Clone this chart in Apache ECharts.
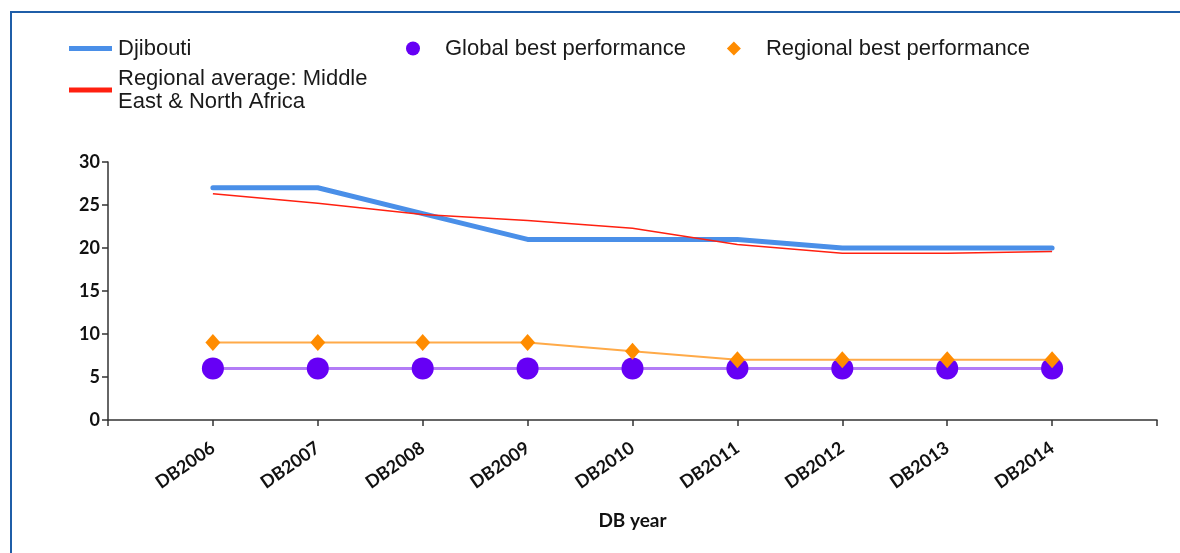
<!DOCTYPE html>
<html>
<head>
<meta charset="utf-8">
<script src="https://cdn.jsdelivr.net/npm/echarts@6/dist/echarts.min.js"></script>
<style>
  html, body { margin: 0; padding: 0; background: #fff; }
  #chart { width: 1180px; height: 553px; }
</style>
</head>
<body>
<div id="chart"></div>
<script>
// Data
const years = ['DB2006', 'DB2007', 'DB2008', 'DB2009', 'DB2010', 'DB2011', 'DB2012', 'DB2013', 'DB2014'];
const djibouti = [27, 27, 24, 21, 21, 21, 20, 20, 20];
const regionalAverage = [26.3, 25.2, 23.9, 23.2, 22.3, 20.4, 19.4, 19.4, 19.6];
const globalBest = [6, 6, 6, 6, 6, 6, 6, 6, 6];
const regionalBest = [9, 9, 9, 9, 8, 7, 7, 7, 7];
const yTicks = [0, 5, 10, 15, 20, 25, 30];

// the axis has an empty slot on each side of the years
const cats = [''].concat(years, ['']);
const pad = arr => [null].concat(arr, [null]);

const labelFont = 'Lato, "Open Sans", sans-serif';
const legendFont = '"Liberation Sans", Arial, sans-serif';

let myChart = echarts.init(document.getElementById('chart'));

let option = {
    backgroundColor: '#fff',
    animation: false,
    graphic: [
        { type: 'rect', shape: { x: 10, y: 11, width: 1170, height: 2 }, style: { fill: '#1f5ea8' } },
        { type: 'rect', shape: { x: 10, y: 11, width: 2, height: 542 }, style: { fill: '#1f5ea8' } }
    ],
    legend: [
        {
            data: ['Djibouti', 'Regional average: Middle East & North Africa'],
            orient: 'vertical',
            left: 64,
            top: 32,
            itemGap: 7,
            itemWidth: 43,
            itemHeight: 5,
            icon: 'rect',
            formatter: name => name.replace('Middle East', 'Middle\nEast'),
            textStyle: { fontFamily: legendFont, fontSize: 22, color: '#1a1a1a', lineHeight: 23, padding: [0, 0, 0, 1] }
        },
        {
            data: [
                { name: 'Global best performance', icon: 'circle' },
                { name: 'Regional best performance', icon: 'diamond' }
            ],
            orient: 'horizontal',
            left: 401,
            top: 32,
            itemGap: 41,
            itemWidth: 14,
            itemHeight: 14,
            textStyle: { fontFamily: legendFont, fontSize: 22, color: '#1a1a1a', lineHeight: 23, padding: [0, 0, 0, 20] }
        }
    ],
    grid: { left: 108, right: 23, top: 162, bottom: 133, containLabel: false },
    xAxis: {
        type: 'category',
        data: cats,
        boundaryGap: false,
        name: 'DB year',
        nameLocation: 'middle',
        nameGap: 91,
        nameTextStyle: { fontFamily: labelFont, fontWeight: 'bold', fontSize: 19, color: '#111' },
        axisLine: { lineStyle: { color: '#333', width: 1.5 } },
        axisTick: { show: true, alignWithLabel: true, length: 6, lineStyle: { color: '#333', width: 1.5 } },
        axisLabel: {
            rotate: 35,
            margin: 26,
            interval: 0,
            fontFamily: labelFont,
            fontWeight: 'bold',
            fontSize: 18,
            color: '#111'
        },
        splitLine: { show: false }
    },
    yAxis: {
        type: 'value',
        min: yTicks[0],
        max: yTicks[yTicks.length - 1],
        interval: 5,
        axisLine: { show: true, lineStyle: { color: '#333', width: 1.5 } },
        axisTick: { show: true, length: 6, lineStyle: { color: '#333', width: 1.5 } },
        axisLabel: { fontFamily: labelFont, fontWeight: 'bold', fontSize: 18, color: '#111', margin: 8 },
        splitLine: { show: false }
    },
    series: [
        {
            name: 'Djibouti',
            type: 'line',
            data: pad(djibouti),
            showSymbol: false,
            symbol: 'none',
            lineStyle: { color: '#4a8fe8', width: 5, cap: 'round' },
            itemStyle: { color: '#4a8fe8' },
            z: 2
        },
        {
            name: 'Regional average: Middle East & North Africa',
            type: 'line',
            data: pad(regionalAverage),
            symbol: 'none',
            lineStyle: { color: '#ff2010', width: 1.5 },
            itemStyle: { color: '#ff2010' },
            z: 3
        },
        {
            name: 'Global best performance',
            type: 'line',
            data: pad(globalBest),
            symbol: 'circle',
            symbolSize: 22,
            lineStyle: { color: '#b27cf6', width: 3 },
            itemStyle: { color: '#6600f5' },
            z: 4
        },
        {
            name: 'Regional best performance',
            type: 'line',
            data: pad(regionalBest),
            symbol: 'diamond',
            symbolSize: [15, 17],
            lineStyle: { color: '#ffaa48', width: 2 },
            itemStyle: { color: '#ff8c00' },
            z: 5
        }
    ]
};

myChart.setOption(option, true);
</script>
</body>
</html>
